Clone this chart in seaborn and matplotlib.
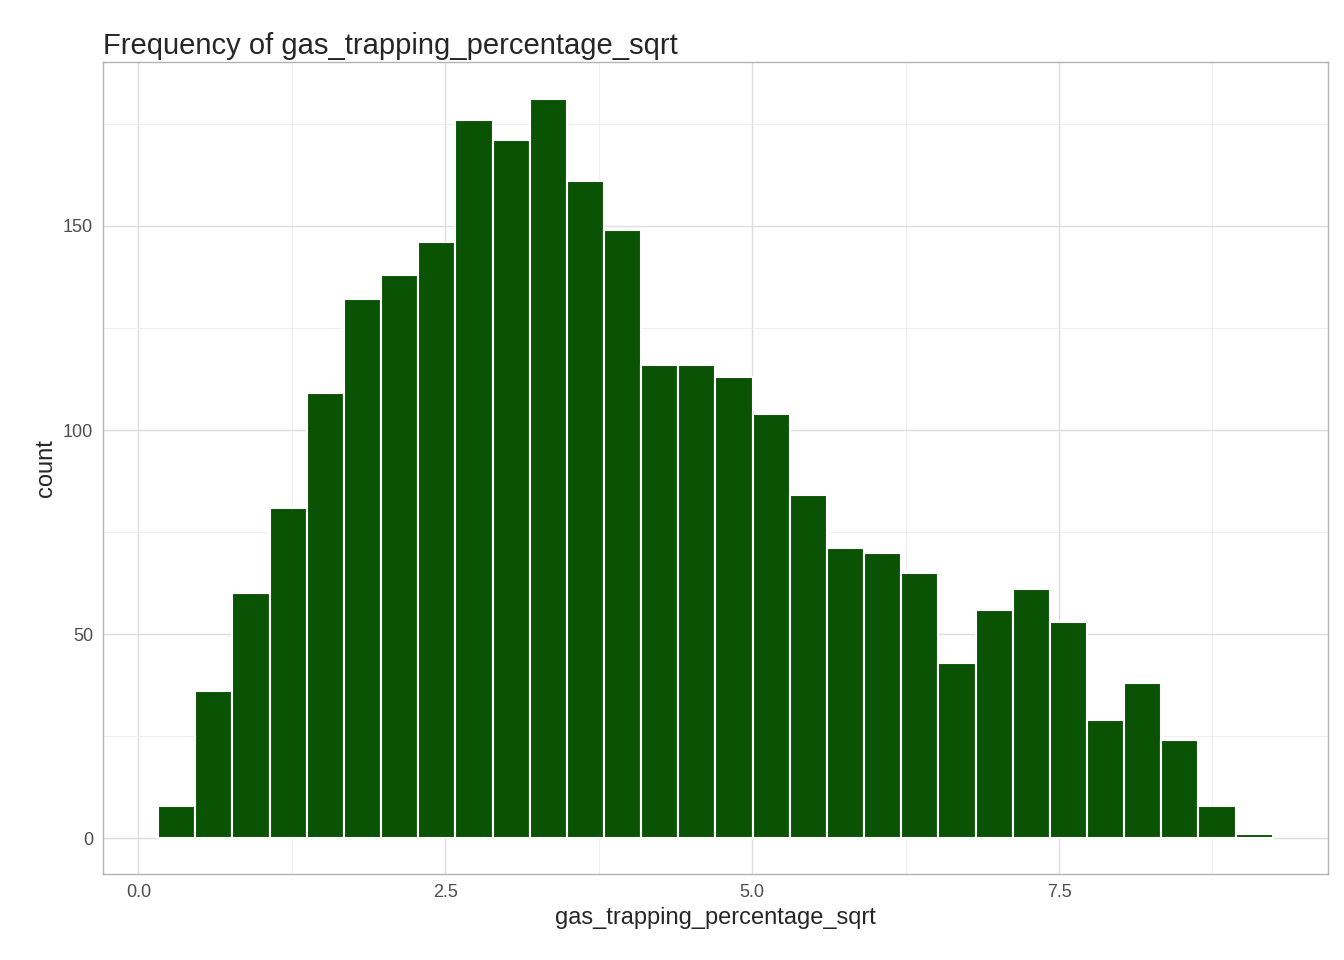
import numpy as np
import pandas as pd
import seaborn as sns
import matplotlib.pyplot as plt
from matplotlib.ticker import MultipleLocator

counts = [8, 36, 60, 81, 109, 132, 138, 146, 176, 171, 181, 161, 149, 116, 116,
          113, 104, 84, 71, 70, 65, 43, 56, 61, 53, 29, 38, 24, 8, 1]
x_start = 0.16
bin_width = 0.3027

n = len(counts)
centers = x_start + bin_width * (np.arange(n) + 0.5)
df = pd.DataFrame({"gas_trapping_percentage_sqrt": centers, "count": counts})

sns.set_style("whitegrid")
plt.rcParams["font.family"] = ["Liberation Sans", "DejaVu Sans"]

fig, ax = plt.subplots(figsize=(13.44, 9.6), dpi=100)
sns.histplot(data=df, x="gas_trapping_percentage_sqrt", weights="count",
             binwidth=bin_width, binrange=(x_start, x_start + bin_width * n),
             color="#0b5304", edgecolor="white", linewidth=1.5, alpha=1, ax=ax)

ax.set_xlim(-0.285, 9.69)
ax.set_ylim(-8.6, 190)
ax.xaxis.set_major_locator(MultipleLocator(2.5))
ax.yaxis.set_major_locator(MultipleLocator(50))
ax.xaxis.set_minor_locator(MultipleLocator(1.25))
ax.yaxis.set_minor_locator(MultipleLocator(25))
ax.grid(which="major", color="#dedede", linewidth=1.0)
ax.grid(which="minor", color="#ececec", linewidth=0.6)
ax.set_axisbelow(True)
for s in ax.spines.values():
    s.set_color("#b3b3b3")
    s.set_linewidth(1)
ax.tick_params(which="both", length=4, color="#b3b3b3", labelsize=13, labelcolor="#4d4d4d")
ax.tick_params(which="minor", length=0)
ax.set_xlabel("gas_trapping_percentage_sqrt", fontsize=17)
ax.set_ylabel("count", fontsize=17)
ax.set_title("Frequency of gas_trapping_percentage_sqrt", fontsize=21, loc="left")
fig.subplots_adjust(left=0.077, right=0.988, top=0.935, bottom=0.09)
fig.savefig("out.png", dpi=100)
